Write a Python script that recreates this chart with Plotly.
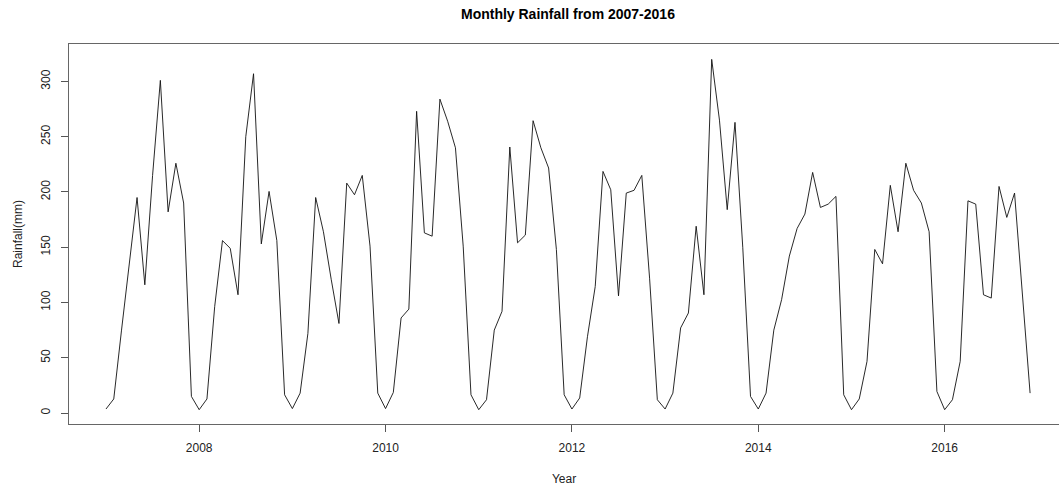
import plotly.graph_objects as go

# Monthly rainfall (mm), Jan..Dec
rain_2007 = [3.6, 12.7, 75, 135, 195, 116, 215, 301, 182, 226, 190, 15]
rain_2008 = [3, 12.7, 96.5, 156, 149, 107, 250, 307, 153, 200.5, 156, 16.5]
rain_2009 = [4, 18, 72, 195, 164, 121, 81, 208, 197.5, 215, 151, 18]
rain_2010 = [4, 18.6, 86, 94, 273, 163, 160, 284, 264, 240, 151, 16.5]
rain_2011 = [3, 12, 75, 92, 240.7, 154, 161, 264.5, 240, 221.7, 148, 16.5]
rain_2012 = [3.6, 13.6, 69, 114.5, 218.6, 202, 106, 199, 201.5, 215, 122, 12]
rain_2013 = [3.6, 18, 77, 90.5, 169, 107, 320, 265, 184, 263, 150, 15]
rain_2014 = [3.6, 18, 75, 102.5, 142, 167, 180, 217.7, 186, 189, 196, 16.5]
rain_2015 = [3, 12.7, 46.7, 148, 135, 206, 164, 226, 201.5, 190, 164, 19.5]
rain_2016 = [3, 12, 46.7, 192, 189, 107, 104, 205, 177, 199, 110, 18]

years = [2007, 2008, 2009, 2010, 2011, 2012, 2013, 2014, 2015, 2016]
yearly = [rain_2007, rain_2008, rain_2009, rain_2010, rain_2011,
          rain_2012, rain_2013, rain_2014, rain_2015, rain_2016]

x_tick_vals = [2008, 2010, 2012, 2014, 2016]
y_tick_vals = [0, 50, 100, 150, 200, 250, 300]

# time index like an R ts object: year + (month-1)/12
t, rain = [], []
for yr, vals in zip(years, yearly):
    for m, v in enumerate(vals):
        t.append(yr + m / 12)
        rain.append(v)

FONT = "Liberation Sans, Arial, sans-serif"

fig = go.Figure()
fig.add_trace(go.Scatter(x=t, y=rain, mode="lines",
                         line=dict(color="#111", width=0.9),
                         showlegend=False, hoverinfo="x+y"))

fig.update_layout(
    width=1059, height=489,
    margin=dict(l=69, r=0, t=44, b=65),
    paper_bgcolor="white", plot_bgcolor="white",
    font=dict(family=FONT, size=12, color="#222"),
    title=dict(text="<b>Monthly Rainfall from 2007-2016</b>",
               x=0.504, xref="paper", xanchor="center",
               y=0.972, yref="container", yanchor="middle",
               font=dict(family=FONT, size=14, color="black")),
)

fig.update_xaxes(
    range=[2006.603, 2017.227], tickvals=x_tick_vals,
    ticks="outside", ticklen=7, tickcolor="#555", tickwidth=1,
    ticklabelstandoff=6,
    showgrid=False, zeroline=False,
    showline=True, linecolor="#666", linewidth=1, mirror=True,
    tickfont=dict(size=12, color="#222"),
    title=dict(text="Year", font=dict(size=12, color="#222"), standoff=20),
)
fig.update_yaxes(
    range=[-9.95, 333.9], tickvals=y_tick_vals, tickangle=-90,
    ticks="outside", ticklen=7, tickcolor="#555", tickwidth=1,
    ticklabelstandoff=6,
    showgrid=False, zeroline=False,
    showline=True, linecolor="#666", linewidth=1, mirror=False,
    tickfont=dict(size=12, color="#222"),
    title=dict(text="Rainfall(mm)", font=dict(size=12, color="#222"), standoff=14),
)

fig.write_html("out.html")
